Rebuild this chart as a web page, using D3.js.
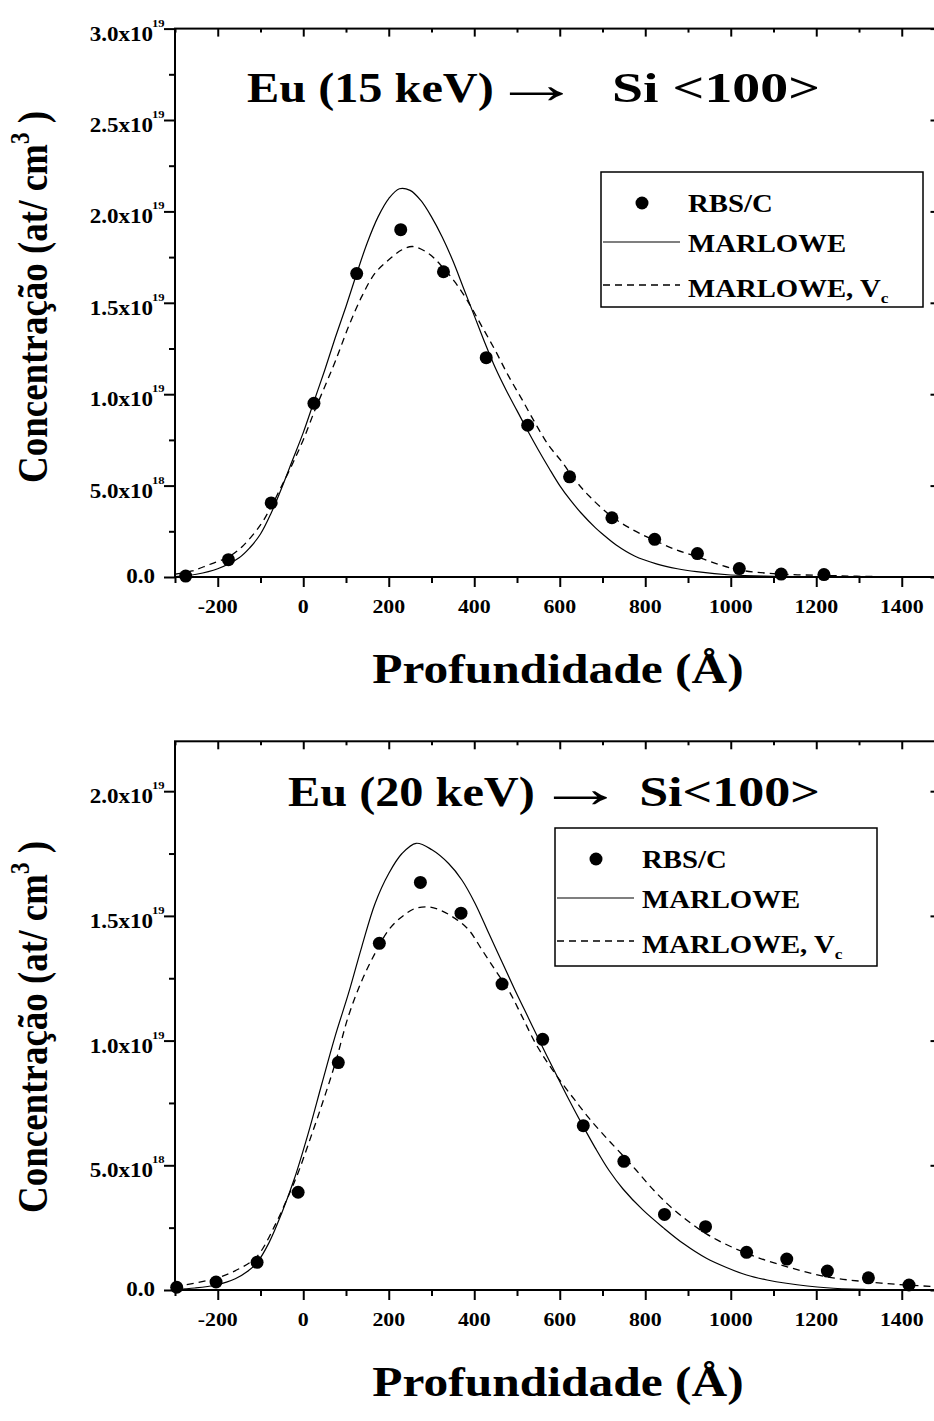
<!DOCTYPE html>
<html>
<head>
<meta charset="utf-8">
<script src="https://cdn.jsdelivr.net/npm/d3@7"></script>
<style>
  body { margin: 0; background: #fff; }
  text { font-family: "Liberation Serif", "Times New Roman", serif; font-weight: bold; fill: #000; }
</style>
</head>
<body>
<svg id="fig" width="934" height="1421"></svg>
<script>
// Eu implanted in Si<100>: concentration in units of 1e19 at/cm3 versus depth in Å

// ---- 15 keV ----
const rbs15Depth = [-275, -175, -75, 25, 125, 228, 328, 428, 525, 623, 722, 822, 922, 1020, 1118, 1218];
const rbs15Conc  = [0.005, 0.095, 0.405, 0.95, 1.66, 1.90, 1.67, 1.20, 0.83, 0.548, 0.324, 0.206, 0.128, 0.046, 0.016, 0.013];

const marlowe15Depth = [-300, -250, -200, -150, -125, -100, -75, -50, -25, 0, 25, 50, 75, 100, 125, 150, 175, 200, 225, 250, 275,
  300, 325, 350, 375, 400, 425, 450, 475, 500, 525, 550, 575, 600, 625, 650, 683, 700, 732, 775, 826, 875, 920, 1000, 1100, 1200, 1300, 1500];
const marlowe15Conc  = [0.002, 0.015, 0.045, 0.105, 0.16, 0.235, 0.35, 0.49, 0.64, 0.79, 0.96, 1.13, 1.31, 1.48, 1.66, 1.83, 1.97, 2.07, 2.124, 2.115, 2.06,
  1.97, 1.86, 1.73, 1.58, 1.43, 1.28, 1.14, 1.02, 0.91, 0.80, 0.695, 0.595, 0.50, 0.42, 0.35, 0.27, 0.235, 0.175, 0.115, 0.072, 0.045, 0.029, 0.011, 0.004, 0.001, 0, 0];

const marlowe15VcDepth = [-300, -260, -222, -175, -143, -100, -75, -50, -25, 0, 25, 50, 75, 106, 137, 168, 200, 231, 256, 293,
  324, 356, 387, 418, 449, 480, 512, 543, 574, 605, 636, 670, 722, 772, 822, 873, 922, 975, 1021, 1115, 1216, 1295, 1400, 1500];
const marlowe15VcConc  = [0.015, 0.033, 0.066, 0.11, 0.166, 0.285, 0.385, 0.50, 0.62, 0.75, 0.90, 1.04, 1.18, 1.37, 1.535, 1.662, 1.735, 1.79, 1.808, 1.77,
  1.70, 1.61, 1.50, 1.37, 1.24, 1.10, 0.97, 0.84, 0.72, 0.63, 0.53, 0.44, 0.33, 0.257, 0.20, 0.148, 0.11, 0.066, 0.038, 0.016, 0.009, 0.004, 0.001, 0];

// ---- 20 keV ----
const rbs20Depth = [-296, -204, -108, -12, 82, 178, 274, 369, 465, 560, 655, 750, 845, 941, 1037, 1131, 1226, 1322, 1417];
const rbs20Conc  = [0.011, 0.032, 0.111, 0.392, 0.912, 1.39, 1.634, 1.511, 1.227, 1.005, 0.659, 0.516, 0.303, 0.254, 0.151, 0.124, 0.076, 0.049, 0.020];

const marlowe20Depth = [-300, -253, -204, -159, -130, -108, -80, -50, -20, 12, 44, 75, 106, 137, 168, 200, 231, 264, 301, 340,
  371, 402, 434, 465, 496, 527, 558, 590, 621, 652, 683, 715, 748, 795, 842, 890, 943, 990, 1037, 1085, 1130, 1224, 1317, 1400, 1500];
const marlowe20Conc  = [0.003, 0.008, 0.02, 0.045, 0.075, 0.11, 0.19, 0.31, 0.45, 0.63, 0.83, 1.02, 1.19, 1.377, 1.55, 1.67, 1.75, 1.791, 1.765, 1.71,
  1.644, 1.55, 1.43, 1.315, 1.20, 1.09, 0.98, 0.87, 0.765, 0.665, 0.57, 0.48, 0.405, 0.32, 0.25, 0.185, 0.127, 0.09, 0.06, 0.04, 0.027, 0.009, 0.002, 0, 0];

const marlowe20VcDepth = [-300, -204, -150, -108, -66, -34, -12, 12, 44, 75, 106, 137, 168, 200, 231, 262, 297, 324, 355, 387, 418,
  449, 480, 512, 543, 574, 605, 636, 668, 709, 750, 779, 820, 865, 943, 1037, 1130, 1224, 1317, 1411, 1500];
const marlowe20VcConc  = [0.013, 0.047, 0.085, 0.135, 0.26, 0.38, 0.47, 0.585, 0.745, 0.91, 1.10, 1.24, 1.35, 1.444, 1.497, 1.53, 1.535, 1.52, 1.49, 1.444, 1.364,
  1.283, 1.203, 1.096, 0.99, 0.905, 0.83, 0.76, 0.69, 0.61, 0.535, 0.48, 0.40, 0.325, 0.225, 0.147, 0.094, 0.053, 0.033, 0.02, 0.012];

// ---- axes ----
const xDomain = [-300, 1500];
const xMajorTicks = [-200, 0, 200, 400, 600, 800, 1000, 1200, 1400];
const xMinorTicks = [-300, -100, 100, 300, 500, 700, 900, 1100, 1300, 1500];
const xTickLabels = ["-200", "0", "200", "400", "600", "800", "1000", "1200", "1400"];

const yMajor15 = [0, 0.5, 1.0, 1.5, 2.0, 2.5, 3.0];
const yMinor15 = [0.25, 0.75, 1.25, 1.75, 2.25, 2.75];
const yLabelMant15 = ["0.0", "5.0x10", "1.0x10", "1.5x10", "2.0x10", "2.5x10", "3.0x10"];
const yLabelExp15  = ["", "18", "19", "19", "19", "19", "19"];

const yMajor20 = [0, 0.5, 1.0, 1.5, 2.0];
const yMinor20 = [0.25, 0.75, 1.25, 1.75];
const yLabelMant20 = ["0.0", "5.0x10", "1.0x10", "1.5x10", "2.0x10"];
const yLabelExp20  = ["", "18", "19", "19", "19"];

const legendLabels = ["RBS/C", "MARLOWE", "MARLOWE, V"];

const SX = 1.15; // horizontal glyph stretch used throughout the figure
const svg = d3.select("#fig");

function stretchedText(g, x, y, size, anchor, rot, sx) {
  return g.append("text")
    .attr("transform", `translate(${x},${y}) scale(${sx || SX},1)` + (rot ? ` rotate(${rot})` : ""))
    .attr("text-anchor", anchor)
    .attr("font-size", size);
}

function panel(o) {
  const g = svg.append("g");
  const x = d3.scaleLinear().domain(xDomain).range([175, 944.5]);
  const y = d3.scaleLinear().domain([0, o.yMax]).range([o.yBottom, o.yTop]);
  const [x0, x1] = x.range();
  const [yb, yt] = y.range();

  const styleAxis = sel => {
    sel.select(".domain").remove();
    sel.selectAll("line").attr("stroke", "#000").attr("stroke-width", 2);
  };

  // bottom axis: outward ticks
  g.append("g").attr("transform", `translate(0,${yb})`)
    .call(d3.axisBottom(x).tickValues(xMajorTicks).tickSize(10).tickFormat("")).call(styleAxis);
  g.append("g").attr("transform", `translate(0,${yb})`)
    .call(d3.axisBottom(x).tickValues(xMinorTicks).tickSize(6).tickFormat("")).call(styleAxis);
  // top axis: inward ticks
  g.append("g").attr("transform", `translate(0,${yt})`)
    .call(d3.axisBottom(x).tickValues(xMajorTicks).tickSize(8).tickFormat("")).call(styleAxis);
  g.append("g").attr("transform", `translate(0,${yt})`)
    .call(d3.axisBottom(x).tickValues(xMinorTicks).tickSize(4).tickFormat("")).call(styleAxis);
  // left axis: outward ticks
  g.append("g").attr("transform", `translate(${x0},0)`)
    .call(d3.axisLeft(y).tickValues(o.yMajor).tickSize(11).tickFormat("")).call(styleAxis);
  g.append("g").attr("transform", `translate(${x0},0)`)
    .call(d3.axisLeft(y).tickValues(o.yMinor).tickSize(6).tickFormat("")).call(styleAxis);
  // right axis: inward ticks
  g.append("g").attr("transform", `translate(${x1},0)`)
    .call(d3.axisLeft(y).tickValues(o.yMajor).tickSize(14).tickFormat("")).call(styleAxis);
  g.append("g").attr("transform", `translate(${x1},0)`)
    .call(d3.axisLeft(y).tickValues(o.yMinor).tickSize(7).tickFormat("")).call(styleAxis);

  // frame
  g.append("rect").attr("x", x0).attr("y", yt).attr("width", x1 - x0).attr("height", yb - yt)
    .attr("fill", "none").attr("stroke", "#000").attr("stroke-width", 2);

  // x tick labels
  xMajorTicks.forEach((v, i) => {
    stretchedText(g, x(v), yb + 36, 19, "middle").text(xTickLabels[i]);
  });
  // y tick labels with exponent
  o.yMajor.forEach((v, i) => {
    const ty = y(v);
    if (o.yExp[i] === "") {
      stretchedText(g, 155, ty + 6, 20, "end").text(o.yMant[i]);
    } else {
      stretchedText(g, 153, ty + 12, 20, "end").text(o.yMant[i]);
      stretchedText(g, 152, ty - 2, 11, "start").text(o.yExp[i]);
    }
  });

  // curves
  const line = d3.line().x(d => x(d[0])).y(d => y(d[1])).curve(d3.curveCatmullRom.alpha(0.5));
  const clipId = "clip" + o.id;
  g.append("clipPath").attr("id", clipId).append("rect")
    .attr("x", x0).attr("y", yt).attr("width", x1 - x0).attr("height", yb - yt);
  g.append("path").datum(d3.zip(o.solidX, o.solidY)).attr("d", line)
    .attr("fill", "none").attr("stroke", "#000").attr("stroke-width", 1.2).attr("clip-path", `url(#${clipId})`);
  g.append("path").datum(d3.zip(o.dashX, o.dashY)).attr("d", line)
    .attr("fill", "none").attr("stroke", "#000").attr("stroke-width", 1.3).attr("stroke-dasharray", "7,5")
    .attr("clip-path", `url(#${clipId})`);
  g.append("g").selectAll("circle").data(d3.zip(o.ptsX, o.ptsY)).join("circle")
    .attr("cx", d => x(d[0])).attr("cy", d => y(d[1])).attr("r", 6.5).attr("fill", "#000");

  // title
  const T = o.title;
  stretchedText(g, T.x1, T.y, 42, "start").text(T.left);
  stretchedText(g, T.xa, T.y + 1, 56, "middle", 0, 1.6).text("\u2192");
  stretchedText(g, T.x2, T.y, 42, "end", 0, T.sxRight).text(T.right);

  // axis titles
  stretchedText(g, 558, yb + 106, 43, "middle").text("Profundidade (\u00C5)");
  const yl = stretchedText(g, 47, o.yLabelMid, 37, "middle", -90);
  yl.append("tspan").text("Concentra\u00E7\u00E3o (at/ cm");
  yl.append("tspan").attr("font-size", 23).attr("dy", -16).text("3");
  yl.append("tspan").attr("dy", 16).text(" )");

  // legend
  const L = o.legend;
  g.append("rect").attr("x", L.x).attr("y", L.y).attr("width", L.w).attr("height", L.h)
    .attr("fill", "#fff").attr("stroke", "#000").attr("stroke-width", 1.5);
  g.append("circle").attr("cx", L.x + 41).attr("cy", L.y + 31).attr("r", 6.5).attr("fill", "#000");
  g.append("line").attr("x1", L.x + 2).attr("x2", L.x + 79).attr("y1", L.y + 70).attr("y2", L.y + 70)
    .attr("stroke", "#000").attr("stroke-width", 1.2);
  g.append("line").attr("x1", L.x + 2).attr("x2", L.x + 79).attr("y1", L.y + 113).attr("y2", L.y + 113)
    .attr("stroke", "#000").attr("stroke-width", 1.3).attr("stroke-dasharray", "7,5");
  stretchedText(g, L.x + 87, L.y + 40, 25, "start").text(legendLabels[0]);
  stretchedText(g, L.x + 87, L.y + 80, 25, "start").text(legendLabels[1]);
  const t3 = stretchedText(g, L.x + 87, L.y + 125, 25, "start");
  t3.append("tspan").text(legendLabels[2]);
  t3.append("tspan").attr("font-size", 15).attr("dy", 6).text("c");
}

panel({
  id: 15, yMax: 3.0, yBottom: 577, yTop: 28.6,
  yMajor: yMajor15, yMinor: yMinor15, yMant: yLabelMant15, yExp: yLabelExp15,
  ptsX: rbs15Depth, ptsY: rbs15Conc,
  solidX: marlowe15Depth, solidY: marlowe15Conc,
  dashX: marlowe15VcDepth, dashY: marlowe15VcConc,
  title: { left: "Eu (15 keV)", right: "Si <100>", x1: 247, xa: 536, x2: 820, sxRight: 1.33, y: 102 },
  yLabelMid: 297,
  legend: { x: 601, y: 172, w: 322, h: 135 }
});

panel({
  id: 20, yMax: 2.2, yBottom: 1290, yTop: 741.3,
  yMajor: yMajor20, yMinor: yMinor20, yMant: yLabelMant20, yExp: yLabelExp20,
  ptsX: rbs20Depth, ptsY: rbs20Conc,
  solidX: marlowe20Depth, solidY: marlowe20Conc,
  dashX: marlowe20VcDepth, dashY: marlowe20VcConc,
  title: { left: "Eu (20 keV)", right: "Si<100>", x1: 288, xa: 580, x2: 820, sxRight: 1.24, y: 806 },
  yLabelMid: 1027,
  legend: { x: 555, y: 828, w: 322, h: 138 }
});
</script>
</body>
</html>
